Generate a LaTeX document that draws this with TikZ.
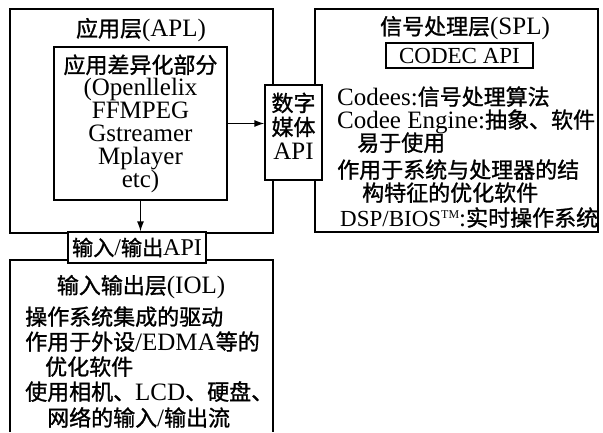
\documentclass[tikz,border=0pt]{standalone}
\usepackage{fontspec}
\setmainfont{Liberation Serif}
\newfontfamily\cjk{Noto Sans CJK SC}[Scale=0.88,FakeBold=1.2]
\usetikzlibrary{arrows.meta}
\newcommand{\zh}[1]{{\cjk #1}}
\newcommand{\tmark}{{\fontsize{12}{12}\selectfont\raisebox{8pt}{TM}}}
\tikzset{
  box/.style={draw, line width=1.3pt, fill=white, inner sep=0pt},
  frame/.style={draw, line width=1.3pt},
  txt/.style={inner sep=0pt, font=\fontsize{25}{25}\selectfont},
  ltxt/.style={txt, anchor=base west},
  arr/.style={line width=1.3pt, -{Latex[length=10pt,width=7pt]}},
}
\begin{document}
\begin{tikzpicture}[x=1pt,y=-1pt]
\useasboundingbox (0,0) rectangle (603,432);
% layer frames
\node[box, minimum width=263pt, minimum height=224pt] (apl) at (141.5,121) {};
\node[box, minimum width=283pt, minimum height=223pt] (spl) at (456.5,120.5) {};
\coordinate (iolbl) at (10,432);
\coordinate (ioltl) at (10,260);
\coordinate (ioltr) at (273,260);
\coordinate (iolbr) at (273,432);
\draw[frame] (iolbl) -- (ioltl) -- (ioltr) -- (iolbr);
% titles
\node[txt] (apltitle) at (141,30) {\zh{应用层}(APL)};
\node[txt] (spltitle) at (465,28) {\zh{信号处理层}(SPL)};
\node[txt] (ioltitle) at (141,287) {\zh{输入输出层}(IOL)};
% inner boxes
\node[box, minimum width=173pt, minimum height=153pt, align=center,
      font=\fontsize{25}{22.8}\selectfont] (inner) at (140.5,123.5)
  {\zh{应用差异化部分}\\(Openllelix\\FFMPEG\\Gstreamer\\Mplayer\\etc)};
\node[box, minimum width=57pt, minimum height=95pt] (media) at (293.5,132.5) {};
\node[txt, align=center, font=\fontsize{25}{24}\selectfont] (medialbl) at (293.5,126)
  {\zh{数字}\\\zh{媒体}\\API};
\node[box, txt, draw, minimum width=147pt, minimum height=25pt,
      font=\fontsize{23}{23}\selectfont] (codec) at (459.5,55.5) {CODEC API};
\node[box, txt, draw, minimum width=138pt, minimum height=31pt,
      font=\fontsize{24}{24}\selectfont] (ioapi) at (137,247.5)
  {\zh{输入}/\zh{输出}API};
% connectors
\draw[arr] (inner.east) -- (inner.east -| media.west);
\draw[arr] (inner.south) -- (inner.south |- ioapi.north);
% SPL body
\node[ltxt] (s1) at (337,105) {Codees:\zh{信号处理算法}};
\node[ltxt] (s2) at (337,128) {Codee Engine:\zh{抽象、软件}};
\node[ltxt] (s3) at (357,151) {\zh{易于使用}};
\node[ltxt] (s4) at (337,178) {\zh{作用于系统与处理器的结}};
\node[ltxt] (s5) at (362,201) {\zh{构特征的优化软件}};
\node[ltxt] (s6) at (340,226) {{\fontsize{23}{23}\selectfont DSP/BIOS}\tmark:\zh{实时操作系统}};
% IOL body
\node[ltxt] (i1) at (25,325) {\zh{操作系统集成的驱动}};
\node[ltxt] (i2) at (25,350) {\zh{作用于外设}/EDMA\zh{等的}};
\node[ltxt] (i3) at (45,375) {\zh{优化软件}};
\node[ltxt] (i4) at (25,400) {\zh{使用相机、}LCD\zh{、硬盘、}};
\node[ltxt] (i5) at (47,426) {\zh{网络的输入}/\zh{输出流}};
\end{tikzpicture}
\end{document}
